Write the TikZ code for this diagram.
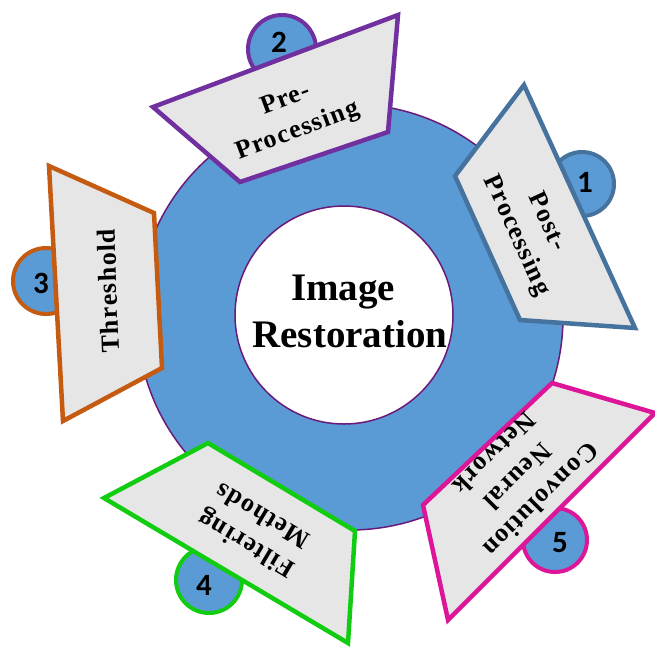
\documentclass[tikz,border=0pt]{standalone}
\usepackage{fontspec}
\setmainfont{Liberation Serif}
\newfontfamily\spacedserif[LetterSpace=5]{Liberation Serif}
\newfontfamily\numfont{Carlito}
\definecolor{ringblue}{RGB}{91,155,213}
\definecolor{ringline}{RGB}{106,26,120}
\definecolor{panelgray}{RGB}{231,230,230}
\definecolor{postblue}{RGB}{70,114,158}
\definecolor{prepurple}{RGB}{112,48,160}
\definecolor{threshorange}{RGB}{197,90,17}
\definecolor{filtgreen}{RGB}{18,204,18}
\definecolor{cnnmagenta}{RGB}{221,22,153}
\begin{document}
\begin{tikzpicture}[x=1pt,y=-1pt,
  ring/.style={fill=ringblue, draw=ringline, line width=1.5pt},
  hole/.style={fill=white, draw=ringline, line width=1.5pt},
  panel/.style={fill=panelgray, line width=4.5pt, line join=miter},
  badge/.style={fill=ringblue, line width=4pt},
  caption/.style={font=\spacedserif\bfseries\fontsize{26}{33}\selectfont, align=center, inner sep=0pt},
  title/.style={font=\bfseries\fontsize{39}{47}\selectfont, inner sep=0pt, anchor=base},
  num/.style={font=\numfont\bfseries\fontsize{31}{31}\selectfont, inner sep=0pt}]
\useasboundingbox (0,0) rectangle (655,649);

% central ring
\draw[ring] (350,317) circle (213pt);
\draw[hole] (344,315) circle (109pt);
\node[title] (titleA) at (343,300) {Image};
\node[title] (titleB) at (350,347) {Restoration};

% 1: post-processing
\draw[badge, draw=postblue] (582,184) circle (32pt);
\node[num] (n1) at (585,182) {1};
\draw[panel, draw=postblue] (524,85) -- (635,328) -- (520,320) -- (455,176) -- cycle;
\node[caption, rotate=-65.5] (post) at (531,229) {Post-\\Processing};

% 2: pre-processing
\draw[badge, draw=prepurple] (282,49) circle (34pt);
\node[num] (n2) at (279,42) {2};
\draw[panel, draw=prepurple] (153,107) -- (398,15) -- (388,132) -- (240,182) -- cycle;
\node[caption, rotate=20.6] (pre) at (292,116) {Pre-\\Processing};

% 3: threshold
\draw[badge, draw=threshorange] (46,281) circle (33pt);
\node[num] (n3) at (41,283) {3};
\draw[panel, draw=threshorange] (49,166) -- (154,213) -- (162,368) -- (63,421) -- cycle;
\node[caption, rotate=92] (thr) at (108,291) {Threshold};

% 4: filtering methods
\draw[badge, draw=filtgreen] (209,580) circle (33pt);
\node[num] (n4) at (204,585) {4};
\draw[panel, draw=filtgreen] (104,498) -- (208,443) -- (355,531) -- (348,643) -- cycle;
\node[caption, rotate=149.2] (filt) at (254,531) {Filtering\\Methods};

% 5: convolution neural network
\draw[badge, draw=cnnmagenta] (555,540) circle (32pt);
\node[num] (n5) at (560,543) {5};
\draw[panel, draw=cnnmagenta] (552,383) -- (655,413) -- (448,620) -- (423,505) -- cycle;
\node[caption, rotate=-135] (cnn) at (518,477) {Convolution\\Neural\\Network};
\end{tikzpicture}
\end{document}
